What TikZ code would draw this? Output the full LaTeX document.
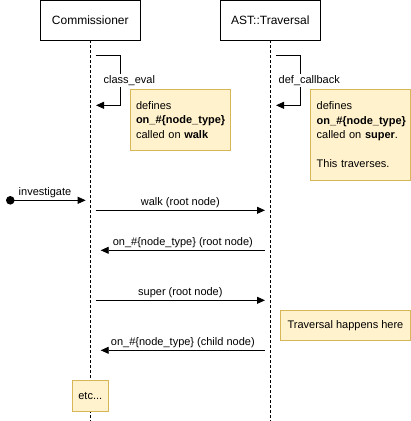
\documentclass[tikz,border=0pt]{standalone}
\usepackage{fontspec}
\setmainfont{Liberation Sans}
\usetikzlibrary{arrows.meta,positioning,calc}
\definecolor{notefill}{HTML}{FFF2CC}
\definecolor{notedraw}{HTML}{D6B656}

\begin{document}
\begin{tikzpicture}[
  x=1pt, y=-1pt,
  font=\fontsize{11}{14.5}\selectfont, >={Triangle[length=8pt,width=7pt]},
  actor/.style={
    draw=black, line width=0.8pt, minimum width=100pt, minimum height=40pt,
    inner sep=0pt, outer sep=0pt, font=\fontsize{12}{14}\selectfont
  },
  note/.style={
    draw=notedraw, fill=notefill, line width=0.8pt, inner sep=0pt, outer sep=0pt
  },
  lifeline/.style={line width=0.8pt, dash pattern=on 3pt off 2pt},
  msg/.style={->, line width=0.8pt},
  lbl/.style={above=2pt, inner sep=0pt}
]
\useasboundingbox (0,0) rectangle (411,421);
\def\xc{90.3} \def\xt{270.3}

% participants and lifelines
\node[actor] (comm) at (\xc,20) {Commissioner};
\node[actor] (trav) at (\xt,20) {AST::Traversal};
\coordinate (commEnd) at (\xc,421);
\coordinate (travEnd) at (\xt,421);
\draw[lifeline] (comm.south) -- (commEnd);
\draw[lifeline] (trav.south) -- (travEnd);

% self calls
\coordinate (evalOut) at (95.7,55.7);
\coordinate (evalIn)  at (96,105.3);
\coordinate (cbOut)   at (275.7,55.7);
\coordinate (cbIn)    at (276,105.3);
\draw[msg] (evalOut) -- ++(24.6,0)
  -- node[fill=white, inner sep=1pt, xshift=9pt] (evalLbl) {class\_eval} ++(0,49.6) -- (evalIn);
\draw[msg] (cbOut) -- ++(24.6,0)
  -- node[fill=white, inner sep=1pt, xshift=9pt] (cbLbl) {def\_callback} ++(0,49.6) -- (cbIn);

% notes
\node[note, minimum width=100.7pt, minimum height=61pt, text width=88.7pt,
  align=left, anchor=north west] (walkNote) at (130,89.3) {%
  defines\\
  \textbf{on\_\#\{node\_type\}}\\
  called on \textbf{walk}};
\node[note, minimum width=100pt, minimum height=91.4pt, text width=88pt,
  align=left, anchor=north west] (superNote) at (310.7,89.3) {%
  defines\\
  \textbf{on\_\#\{node\_type\}}\\
  called on \textbf{super}.\\[14.5pt]
  This traverses.};
\node[note, minimum width=130.4pt, minimum height=30pt, anchor=north west]
  (travNote) at (280.3,310.3) {Traversal happens here};
\node[note, minimum width=36pt, minimum height=31pt] (etc) at (\xc,396.2) {etc...};

% messages
\node[circle, fill=black, inner sep=0pt, minimum size=8.6pt] (start) at (10.3,200.3) {};
\coordinate (invIn) at (85.7,200.3);
\draw[msg] (start.center) -- node[lbl, xshift=-3pt] {investigate} (invIn);

\coordinate (walkA) at (95.7,210.3);  \coordinate (walkB) at (265,210.3);
\coordinate (rootA) at (265,250.3);   \coordinate (rootB) at (100.7,250.3);
\coordinate (superA) at (95.7,300.3); \coordinate (superB) at (265,300.3);
\coordinate (childA) at (265,350.3);  \coordinate (childB) at (100.7,350.3);
\draw[msg] (walkA) -- node[lbl] {walk (root node)} (walkB);
\draw[msg] (rootA) -- node[lbl] {on\_\#\{node\_type\} (root node)} (rootB);
\draw[msg] (superA) -- node[lbl] {super (root node)} (superB);
\draw[msg] (childA) -- node[lbl] {on\_\#\{node\_type\} (child node)} (childB);
\end{tikzpicture}
\end{document}
